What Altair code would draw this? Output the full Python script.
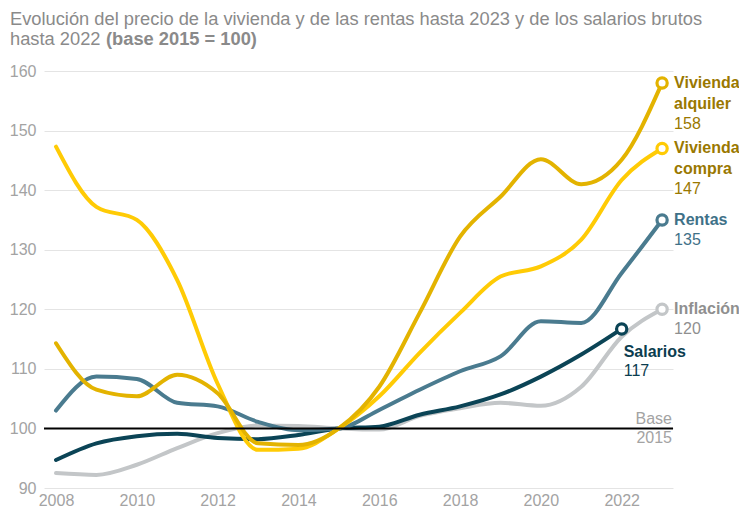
import altair as alt
import pandas as pd

years = list(range(2008, 2024))
alquiler = [114.3, 106.5, 105.4, 109.0, 105.9, 97.5, 97.2, 100.0, 107.0, 119.4, 132.2, 138.9, 145.2, 141.0, 145.1, 158.0]
compra = [147.3, 137.2, 135.0, 124.9, 107.5, 96.4, 96.6, 100.0, 105.4, 112.7, 119.4, 125.5, 127.2, 131.7, 141.7, 147.0]
rentas = [103.0, 108.7, 108.3, 104.3, 103.7, 101.1, 99.7, 100.0, 103.1, 106.5, 109.6, 112.1, 118.0, 117.7, 126.1, 135.0]
salarios = [94.7, 97.5, 98.7, 99.1, 98.4, 98.2, 98.9, 100.0, 100.3, 102.3, 103.7, 105.7, 108.7, 112.4, 116.7]
inflacion = [92.5, 92.2, 93.9, 96.7, 99.2, 100.5, 100.4, 100.0, 99.8, 102.1, 103.4, 104.3, 103.8, 107.0, 115.4, 120.0]

series_names = ["Inflación", "Salarios", "Rentas", "Vivienda compra", "Vivienda alquiler"]
series_values = [inflacion, salarios, rentas, compra, alquiler]
line_colors = ["#c3c6c8", "#0b4456", "#4a7b8f", "#ffcb05", "#e3b300"]
text_colors = ["#8f8f8f", "#0b3d4f", "#3f7188", "#9a7800", "#9a7800"]

x_ticks = [2008, 2010, 2012, 2014, 2016, 2018, 2020, 2022]
y_ticks = [90, 100, 110, 120, 130, 140, 150, 160]

title_line1 = "Evolución del precio de la vivienda y de las rentas hasta 2023 y de los salarios brutos"
title_line2a = "hasta 2022"
title_line2b = "(base 2015 = 100)"

FONT = "Liberation Sans, Arial, sans-serif"

rows = []
for name, vals in zip(series_names, series_values):
    for y, v in zip(years, vals):
        rows.append({"serie": name, "year": y, "value": v})
df = pd.DataFrame(rows)

ends = []
for name, vals, tc in zip(series_names, series_values, text_colors):
    ends.append({"serie": name, "year": years[len(vals) - 1], "value": vals[-1],
                 "num": f"{round(vals[-1]):d}", "tc": tc,
                 "l1": name.split(" ")[0], "l2": name.split(" ")[1] if " " in name else ""})
ends_df = pd.DataFrame(ends)

xs = alt.Scale(domain=[2007.703, 2023.27], nice=False, zero=False)
ys = alt.Scale(domain=[90, 160], nice=False, zero=False)
cs = alt.Scale(domain=series_names, range=line_colors)

X = alt.X("year:Q", scale=xs, title=None,
          axis=alt.Axis(values=x_ticks, format="d", grid=False, domain=False, ticks=False,
                        labelPadding=4, labelColor="#a3a3a3", labelFontSize=16, labelFont=FONT))
Y = alt.Y("value:Q", scale=ys, title=None,
          axis=alt.Axis(values=y_ticks, grid=True, gridColor="#e4e4e4", gridWidth=1, domain=False,
                        ticks=False, labelPadding=8, labelColor="#a3a3a3", labelFontSize=16, labelFont=FONT))

base = alt.Chart(df)

lines = base.mark_line(strokeWidth=4, interpolate="monotone", strokeCap="round").encode(
    x=X, y=Y,
    color=alt.Color("serie:N", scale=cs, legend=None),
    order=alt.Order("year:Q"),
    detail="serie:N",
)

rule = alt.Chart(pd.DataFrame({"v": [100]})).mark_rule(color="#000000", strokeWidth=2).encode(
    y=alt.Y("v:Q", scale=ys)
)

points = alt.Chart(ends_df).mark_point(shape="circle", filled=False, fill="white", fillOpacity=1,
                                       strokeWidth=3.2, size=105, opacity=1).encode(
    x=alt.X("year:Q", scale=xs), y=alt.Y("value:Q", scale=ys),
    stroke=alt.Color("serie:N", scale=cs, legend=None),
)

right = alt.Chart(ends_df).transform_filter(alt.datum.serie != "Salarios")
two = alt.Chart(ends_df).transform_filter(alt.datum.l2 != "")
one = alt.Chart(ends_df).transform_filter((alt.datum.l2 == "") & (alt.datum.serie != "Salarios"))
sal = alt.Chart(ends_df).transform_filter(alt.datum.serie == "Salarios")

def txt(ch, field, dx, dy, bold):
    return ch.mark_text(align="left", baseline="middle", dx=dx, dy=dy, font=FONT, fontSize=16,
                        fontWeight="bold" if bold else "normal").encode(
        x=alt.X("year:Q", scale=xs), y=alt.Y("value:Q", scale=ys),
        text=f"{field}:N", color=alt.Color("tc:N", scale=None),
    )

labels = [
    txt(right, "l1", 12, 0, True),
    txt(two, "l2", 12, 21, True),
    txt(two, "num", 12, 41, False),
    txt(one, "num", 12, 20, False),
    txt(sal, "l1", 2, 23, True),
    txt(sal, "num", 2, 42, False),
]

base_lbl = alt.Chart(pd.DataFrame({"v": [100], "t1": ["Base"], "t2": ["2015"]}))
base1 = base_lbl.mark_text(align="right", baseline="middle", dy=-9, font=FONT, fontSize=16,
                           color="#a3a3a3").encode(x=alt.value(628), y=alt.Y("v:Q", scale=ys), text="t1:N")
base2 = base_lbl.mark_text(align="right", baseline="middle", dy=10, font=FONT, fontSize=16,
                           color="#a3a3a3").encode(x=alt.value(628), y=alt.Y("v:Q", scale=ys), text="t2:N")

TS = 18.3
tdf = pd.DataFrame({"t1": [title_line1], "t2a": [title_line2a], "t2b": [title_line2b]})
t1 = alt.Chart(tdf).mark_text(align="left", baseline="middle", font=FONT, fontSize=TS, color="#8a8a8a").encode(
    x=alt.value(-34), y=alt.value(-51), text="t1:N")
t2a = alt.Chart(tdf).mark_text(align="left", baseline="middle", font=FONT, fontSize=TS, color="#8a8a8a").encode(
    x=alt.value(-34), y=alt.value(-31), text="t2a:N")
t2b = alt.Chart(tdf).mark_text(align="left", baseline="middle", font=FONT, fontSize=TS, fontWeight="bold",
                               color="#8a8a8a").encode(
    x=alt.value(62), y=alt.value(-31), text="t2b:N")

chart = alt.layer(lines, rule, points, *labels, base1, base2, t1, t2a, t2b).properties(
    width=629, height=417,
    padding={"left": 36, "top": 63, "right": 66, "bottom": 28},
    autosize=alt.AutoSizeParams(type="none"),
).configure_view(stroke=None).resolve_scale(color="independent")

chart.save("out.html", embed_options={"renderer": "svg", "actions": False})
